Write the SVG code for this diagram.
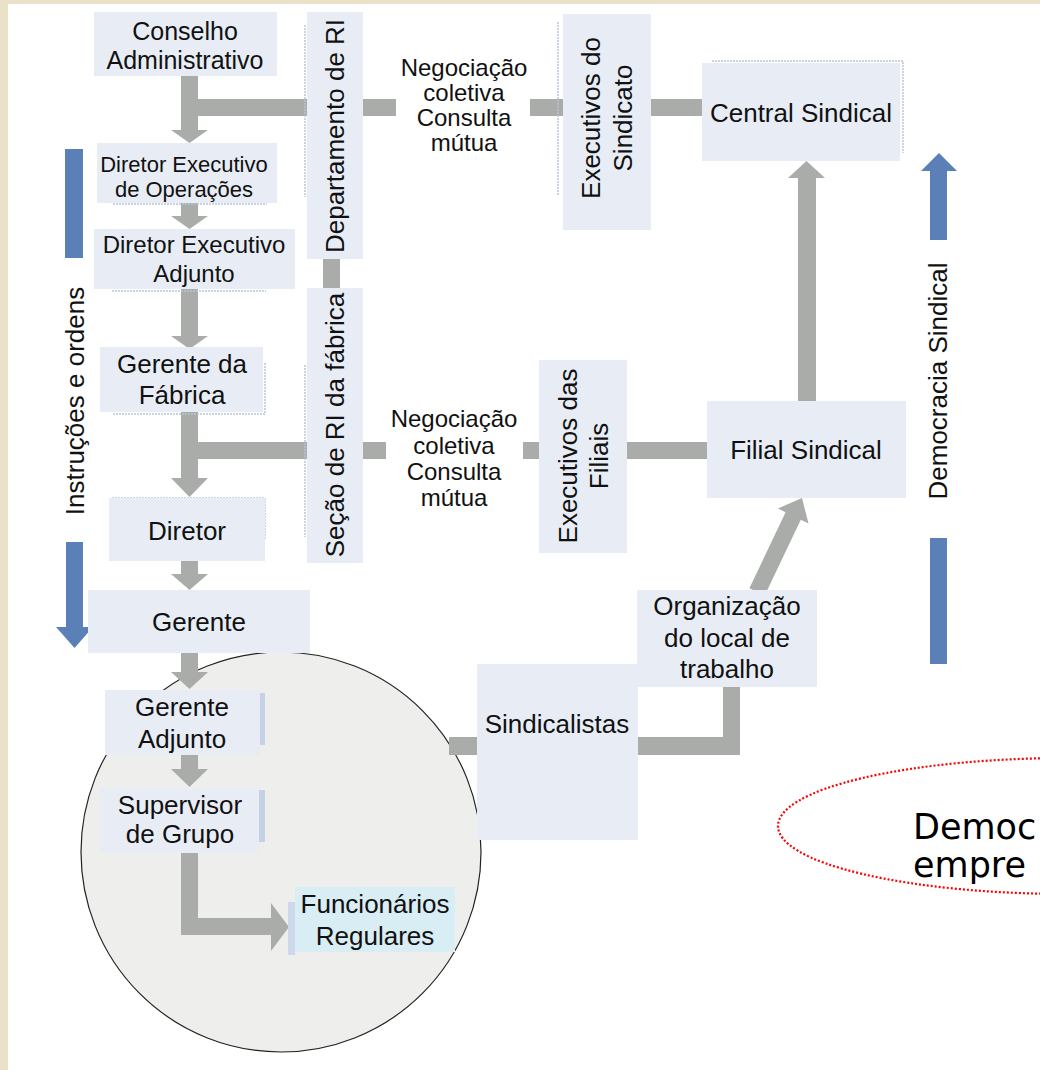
<svg xmlns="http://www.w3.org/2000/svg" width="1040" height="1070" viewBox="0 0 1040 1070">
<style>
.box{fill:#e8edf5}
.bx2{fill:#d9edf4}
.t{font-family:"Liberation Sans",Arial,sans-serif;font-size:26px;fill:#111;text-anchor:middle}
.s24{font-size:24px}
.s22{font-size:22px}
.g{fill:#a9aca9}
.b{fill:#5b80b8}
.sh{fill:none;stroke:#b9c5d8;stroke-width:1.5;stroke-dasharray:2 1}
.big{font-family:"DejaVu Sans","Open Sans",sans-serif;font-size:35px;fill:#000}
</style>
<rect x="0" y="0" width="1040" height="1070" fill="#e9e1c8"/>
<rect x="8" y="4" width="1032" height="1066" fill="#ffffff"/>

<!-- circle (background) -->
<circle cx="281" cy="852" r="200" fill="#eeefed" stroke="#222" stroke-width="1.2"/>

<!-- connectors -->
<g id="connectors">
  <rect class="g" x="181" y="76" width="17" height="55"/>
  <polygon class="g" points="171,130 208,130 189.5,143"/>
  <rect class="g" x="198" y="99" width="110" height="17"/>
  <rect class="g" x="181" y="203" width="17" height="14"/>
  <polygon class="g" points="171,216 208,216 189.5,229"/>
  <rect class="g" x="181" y="289" width="17" height="48"/>
  <polygon class="g" points="171,336 208,336 189.5,349"/>
  <rect class="g" x="181" y="412" width="17" height="67"/>
  <polygon class="g" points="171,478 208,478 189.5,497"/>
  <rect class="g" x="198" y="442" width="110" height="17"/>
  <rect class="g" x="181" y="561" width="17" height="14"/>
  <polygon class="g" points="171,574 208,574 189.5,590"/>
  <rect class="g" x="181" y="653" width="17" height="20"/>
  <polygon class="g" points="171,672 208,672 189.5,689"/>
  <rect class="g" x="181" y="755" width="17" height="15"/>
  <polygon class="g" points="171,769 208,769 189.5,787"/>
  <path class="g" d="M181,853 H198 V918 H271 V903 L289,927 L271,951 V935 H181 Z"/>
  <rect class="g" x="323" y="259" width="17" height="30"/>
  <rect class="g" x="363" y="99" width="33" height="17"/>
  <rect class="g" x="530" y="99" width="34" height="17"/>
  <rect class="g" x="651" y="99" width="52" height="17"/>
  <rect class="g" x="363" y="442" width="23" height="17"/>
  <rect class="g" x="523" y="442" width="17" height="17"/>
  <rect class="g" x="627" y="442" width="81" height="17"/>
  <rect class="g" x="798" y="177" width="18" height="225"/>
  <polygon class="g" points="788,178 825,178 806.5,161"/>
  <polygon class="g" points="749.4,588.3 785.6,512.3 777.9,508.5 802,498 808.5,523.5 800.8,519.7 764.6,595.7"/>
  <rect class="g" x="449" y="737" width="29" height="18"/>
  <path class="g" d="M638,737 H723 V686 H740 V755 H638 Z"/>
  <rect class="b" x="65" y="149" width="18" height="109"/>
  <rect class="b" x="66" y="542" width="17" height="86"/>
  <polygon class="b" points="56,627 93,627 74.5,648"/>
  <rect class="b" x="930" y="170" width="17" height="70"/>
  <polygon class="b" points="921,171 957,171 939,153"/>
  <rect class="b" x="930" y="538" width="17" height="126"/>
</g>

<g id="shadows">
  <line class="sh" x1="305" y1="25" x2="305" y2="197"/>
  <line class="sh" x1="113" y1="204" x2="267" y2="204"/>
  <line class="sh" x1="112" y1="291" x2="266" y2="291"/>
  <path class="sh" d="M265,363 V414 H112"/>
  <path class="sh" d="M112,498 H265 V540"/>
  <line class="sh" x1="305" y1="365" x2="305" y2="537"/>
  <line class="sh" x1="558" y1="22" x2="558" y2="195"/>
  <path class="sh" d="M712,61 H903 V153"/>
  <rect x="259" y="693" width="6" height="52" fill="#c5d2e6"/>
  <rect x="259" y="790" width="6" height="52" fill="#c5d2e6"/>
  <rect x="288" y="902" width="7" height="53" fill="#cdd9ea"/>
</g>

<g id="n-conselho"><rect class="box" x="94" y="12" width="183" height="64"/>
  <text class="t" style="font-size:25px" x="185" y="40">Conselho</text>
  <text class="t" style="font-size:25px" x="185" y="69">Administrativo</text></g>
<g id="n-dirop"><rect class="box" x="97" y="143" width="180" height="60"/>
  <text class="t s22" x="184" y="172">Diretor Executivo</text>
  <text class="t s22" x="184" y="197">de Operações</text></g>
<g id="n-diradj"><rect class="box" x="94" y="229" width="201" height="60"/>
  <text class="t s24" x="194" y="253">Diretor Executivo</text>
  <text class="t s24" x="194" y="282">Adjunto</text></g>
<g id="n-deptri"><rect class="box" x="307" y="12" width="56" height="247"/>
  <text class="t" transform="translate(344,136) rotate(-90)">Departamento de RI</text></g>
<g id="n-secao"><rect class="box" x="307" y="288" width="56" height="275"/>
  <text class="t" transform="translate(344,425) rotate(-90)">Seção de RI da fábrica</text></g>
<g id="n-gfab"><rect class="box" x="100" y="347" width="163" height="65"/>
  <text class="t" x="182" y="373">Gerente da</text>
  <text class="t" x="182" y="404">Fábrica</text></g>
<g id="n-diretor"><rect class="box" x="109" y="498" width="156" height="63"/>
  <text class="t" x="187" y="540">Diretor</text></g>
<g id="n-gerente"><rect class="box" x="88" y="590" width="222" height="63"/>
  <text class="t" x="199" y="631">Gerente</text></g>
<g id="n-gadj"><rect class="box" x="105" y="690" width="155" height="65"/>
  <text class="t" x="182" y="716">Gerente</text>
  <text class="t" x="182" y="748">Adjunto</text></g>
<g id="n-sup"><rect class="box" x="100" y="788" width="159" height="65"/>
  <text class="t" x="180" y="814">Supervisor</text>
  <text class="t" x="180" y="843">de Grupo</text></g>
<g id="n-func"><rect class="bx2" x="295" y="887" width="160" height="65"/>
  <text class="t" x="375" y="913">Funcionários</text>
  <text class="t" x="375" y="945">Regulares</text></g>
<g id="n-neg1">
  <text class="t s24" x="464" y="76">Negociação</text>
  <text class="t s24" x="464" y="101">coletiva</text>
  <text class="t s24" x="464" y="126">Consulta</text>
  <text class="t s24" x="464" y="151">mútua</text></g>
<g id="n-neg2">
  <text class="t s24" x="454" y="427">Negociação</text>
  <text class="t s24" x="454" y="454">coletiva</text>
  <text class="t s24" x="454" y="480">Consulta</text>
  <text class="t s24" x="454" y="506">mútua</text></g>
<g id="n-execsind"><rect class="box" x="563" y="14" width="88" height="216"/>
  <text class="t" transform="translate(600,118) rotate(-90)">Executivos do</text>
  <text class="t" transform="translate(632,118) rotate(-90)">Sindicato</text></g>
<g id="n-execfil"><rect class="box" x="539" y="360" width="88" height="193"/>
  <text class="t" transform="translate(577,456) rotate(-90)">Executivos das</text>
  <text class="t" transform="translate(608,456) rotate(-90)">Filiais</text></g>
<g id="n-central"><rect class="box" x="702" y="63" width="198" height="98"/>
  <text class="t" x="801" y="122">Central Sindical</text></g>
<g id="n-filial"><rect class="box" x="707" y="401" width="199" height="97"/>
  <text class="t" x="806" y="459">Filial Sindical</text></g>
<g id="n-org"><rect class="box" x="637" y="590" width="180" height="97"/>
  <text class="t" x="727" y="615">Organização</text>
  <text class="t" x="727" y="647">do local de</text>
  <text class="t" x="727" y="678">trabalho</text></g>
<g id="n-sind"><rect class="box" x="477" y="664" width="161" height="176"/>
  <text class="t" x="557" y="733">Sindicalistas</text></g>
<g id="n-instr">
  <text class="t" transform="translate(84,401) rotate(-90)">Instruções e ordens</text></g>
<g id="n-demsind">
  <text class="t" transform="translate(947,381) rotate(-90)">Democracia Sindical</text></g>
<g id="n-ellipse">
  <ellipse cx="1068" cy="826" rx="290" ry="68" fill="none" stroke="#ff0000" stroke-width="2.2" stroke-dasharray="2 2"/>
  <text class="big" x="913" y="839">Democ</text>
  <text class="big" x="913" y="877">empre</text>
</g>
</svg>
